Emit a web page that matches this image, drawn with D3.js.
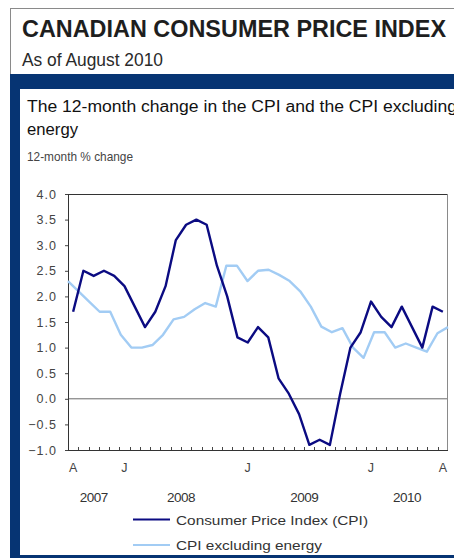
<!DOCTYPE html>
<html><head><meta charset="utf-8">
<script src="https://cdn.jsdelivr.net/npm/d3@7/dist/d3.min.js"></script>
<style>
html,body{margin:0;padding:0;background:#fff;}
svg{display:block;}
text{font-family:"Liberation Sans",Arial,sans-serif;}
</style></head>
<body>
<script>
// ---- data ----
const months = ["Aug 2007","Sep 2007","Oct 2007","Nov 2007","Dec 2007",
 "Jan 2008","Feb 2008","Mar 2008","Apr 2008","May 2008","Jun 2008","Jul 2008","Aug 2008","Sep 2008","Oct 2008","Nov 2008","Dec 2008",
 "Jan 2009","Feb 2009","Mar 2009","Apr 2009","May 2009","Jun 2009","Jul 2009","Aug 2009","Sep 2009","Oct 2009","Nov 2009","Dec 2009",
 "Jan 2010","Feb 2010","Mar 2010","Apr 2010","May 2010","Jun 2010","Jul 2010","Aug 2010"];
const cpi = [1.7,2.5,2.4,2.5,2.4,
 2.2,1.8,1.4,1.7,2.2,3.1,3.4,3.5,3.4,2.6,2.0,1.2,
 1.1,1.4,1.2,0.4,0.1,-0.3,-0.9,-0.8,-0.9,0.1,1.0,1.3,
 1.9,1.6,1.4,1.8,1.4,1.0,1.8,1.7];
const cpiExEnergy = [2.3,2.1,1.9,1.7,1.7,
 1.25,1.0,1.0,1.05,1.25,1.55,1.6,1.75,1.87,1.8,2.6,2.6,
 2.3,2.5,2.52,2.42,2.3,2.1,1.8,1.41,1.3,1.38,1.0,0.8,
 1.3,1.3,1.0,1.08,1.0,0.92,1.28,1.4];
const monthTickLabels = [{m:"Aug 2007",t:"A"},{m:"Jan 2008",t:"J"},{m:"Jan 2009",t:"J"},{m:"Jan 2010",t:"J"},{m:"Aug 2010",t:"A"}];
const years = [{y:"2007",from:"Aug 2007",to:"Dec 2007"},{y:"2008",from:"Jan 2008",to:"Dec 2008"},{y:"2009",from:"Jan 2009",to:"Dec 2009"},{y:"2010",from:"Jan 2010",to:"Aug 2010"}];
const yTicks = [4.0,3.5,3.0,2.5,2.0,1.5,1.0,0.5,0.0,-0.5,-1.0];
const seriesNames = ["Consumer Price Index (CPI)","CPI excluding energy"];
const colors = ["#0b0b82","#a2ccf4"];

const W=454,H=558;
const svg=d3.select("body").append("svg").attr("width",W).attr("height",H);

// frame
svg.append("rect").attr("x",10.5).attr("y",8.5).attr("width",460).attr("height",560).attr("fill","none").attr("stroke","#8a8a8a").attr("stroke-width",1);
svg.append("text").attr("x",22).attr("y",37).attr("font-family","'Liberation Sans Narrow','DejaVu Sans Condensed',sans-serif")
  .attr("font-weight","bold").attr("font-size",23).attr("fill","#1e1e1e")
  .attr("textLength",424).attr("lengthAdjust","spacingAndGlyphs").text("CANADIAN CONSUMER PRICE INDEX");
svg.append("text").attr("x",22).attr("y",65.5).attr("font-family","'Liberation Sans Narrow','DejaVu Sans Condensed',sans-serif")
  .attr("font-size",19).attr("fill","#2a2a2a")
  .attr("textLength",141).attr("lengthAdjust","spacingAndGlyphs").text("As of August 2010");

// blue panel border
const blue="#063473";
svg.append("rect").attr("x",10).attr("y",74).attr("width",W-10).attr("height",15).attr("fill",blue);
svg.append("rect").attr("x",10).attr("y",74).attr("width",10).attr("height",H-74).attr("fill",blue);
svg.append("rect").attr("x",10).attr("y",555).attr("width",W-10).attr("height",3).attr("fill",blue);

// chart titles
svg.append("text").attr("x",27).attr("y",112).attr("font-size",16).attr("fill","#111")
  .attr("textLength",430).attr("lengthAdjust","spacingAndGlyphs").text("The 12-month change in the CPI and the CPI excluding");
svg.append("text").attr("x",27).attr("y",135).attr("font-size",16).attr("fill","#111")
  .attr("textLength",51).attr("lengthAdjust","spacingAndGlyphs").text("energy");
svg.append("text").attr("x",27).attr("y",161).attr("font-size",13.5).attr("fill","#444")
  .attr("textLength",106).attr("lengthAdjust","spacingAndGlyphs").text("12-month % change");

// plot
const x0=68,x1=448,y0=194,y1=450;
const xBand=d3.scaleBand().domain(months).range([x0,x1]).padding(0);
const xEdge=d3.scalePoint().domain(months).range([x0,x1]);
const y=d3.scaleLinear().domain([-1,4]).range([y1,y0]);

// y axis
const yAxis=svg.append("g").attr("transform",`translate(${x0},0)`)
  .call(d3.axisLeft(y).tickValues(yTicks).tickFormat(d3.format(".1f")).tickSize(3).tickPadding(8));
yAxis.select(".domain").remove();
yAxis.selectAll("line").attr("stroke","#444");
yAxis.selectAll("text").attr("font-size",12.5).attr("fill","#444").attr("letter-spacing","1px")
  .attr("font-family","'Liberation Sans',Arial,sans-serif");

// zero line
svg.append("line").attr("x1",x0).attr("x2",x1).attr("y1",y(0)).attr("y2",y(0)).attr("stroke","#6a6a6a").attr("stroke-width",1);

// x ticks (between months, inside)
const xt=svg.append("g");
xt.selectAll("line").data(months.slice(1)).join("line")
  .attr("x1",d=>Math.round(xBand(d))+0.5).attr("x2",d=>Math.round(xBand(d))+0.5)
  .attr("y1",y1).attr("y2",y1-3).attr("stroke","#444");

// box
svg.append("line").attr("x1",x0+0.5).attr("x2",x0+0.5).attr("y1",y0).attr("y2",y1).attr("stroke","#333");
svg.append("line").attr("x1",x0).attr("x2",x1).attr("y1",y1+0.5).attr("y2",y1+0.5).attr("stroke","#333");
svg.append("line").attr("x1",x0).attr("x2",x1).attr("y1",y0+0.5).attr("y2",y0+0.5).attr("stroke","#333");
svg.append("line").attr("x1",x1-0.5).attr("x2",x1-0.5).attr("y1",y0).attr("y2",y1).attr("stroke","#8a8a8a");

// lines
const lineEx=d3.line().x((d,i)=>xEdge(months[i])).y(d=>y(d));
const lineCpi=d3.line().x((d,i)=>xBand(months[i])+xBand.bandwidth()/2).y(d=>y(d));
svg.append("path").datum(cpiExEnergy).attr("d",lineEx).attr("fill","none").attr("stroke",colors[1]).attr("stroke-width",2.4).attr("stroke-linejoin","round");
svg.append("path").datum(cpi).attr("d",lineCpi).attr("fill","none").attr("stroke",colors[0]).attr("stroke-width",2.4).attr("stroke-linejoin","round");

// x labels
svg.append("g").selectAll("text").data(monthTickLabels).join("text")
  .attr("x",d=>xBand(d.m)+xBand.bandwidth()/2).attr("y",472).attr("text-anchor","middle")
  .attr("font-size",12.5).attr("fill","#444").text(d=>d.t);
svg.append("g").selectAll("text").data(years).join("text")
  .attr("x",d=>(xBand(d.from)+xBand(d.to)+xBand.bandwidth())/2).attr("y",502).attr("text-anchor","middle")
  .attr("font-size",13.5).attr("fill","#333").attr("letter-spacing","-0.5px").text(d=>d.y);

// legend
const lg=svg.append("g");
seriesNames.forEach((n,i)=>{
  const ly=519.5+i*25.5;
  lg.append("line").attr("x1",133).attr("x2",170).attr("y1",ly).attr("y2",ly).attr("stroke",colors[i]).attr("stroke-width",2);
  lg.append("text").attr("x",176).attr("y",ly+5).attr("font-size",13.5).attr("fill","#333")
    .attr("textLength",i==0?192:146).attr("lengthAdjust","spacingAndGlyphs").text(n);
});
</script>
</body></html>
